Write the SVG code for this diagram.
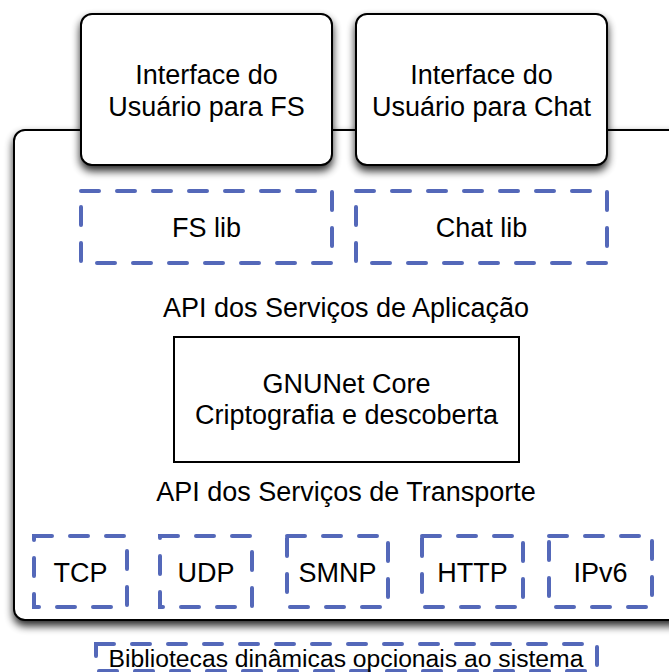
<svg xmlns="http://www.w3.org/2000/svg" width="669" height="672" viewBox="0 0 669 672">
<defs>
<filter id="sh" x="-20%" y="-20%" width="140%" height="140%">
<feGaussianBlur in="SourceAlpha" stdDeviation="4.5"/>
<feOffset dx="0" dy="5" result="b"/>
<feComponentTransfer><feFuncA type="linear" slope="0.85"/></feComponentTransfer>
<feMerge><feMergeNode/><feMergeNode in="SourceGraphic"/></feMerge>
</filter>
<style>
.solid{fill:#fff;stroke:#000;stroke-width:2}
.dash{fill:none;stroke:#5468b9;stroke-width:4;stroke-dasharray:18 18;stroke-linecap:round}
text{font-family:"Liberation Sans",Arial,Helvetica,sans-serif;font-size:27px;fill:#000;text-anchor:middle}
.small{font-size:24.7px}
</style>
</defs>
<rect width="669" height="672" fill="#fff"/>
<g id="main">
<rect class="solid" x="14" y="130" width="690" height="490" rx="11" filter="url(#sh)"/>
</g>
<g id="ui-fs">
<rect class="solid" x="81" y="14" width="251" height="151" rx="11" filter="url(#sh)"/>
<text x="206.5" y="84">Interface do</text>
<text x="206.5" y="116">Usuário para FS</text>
</g>
<g id="ui-chat">
<rect class="solid" x="356" y="14" width="251" height="151" rx="11" filter="url(#sh)"/>
<text x="481.5" y="84">Interface do</text>
<text x="481.5" y="116">Usuário para Chat</text>
</g>
<g id="fs-lib">
<rect class="dash" x="81" y="191" width="251" height="72"/>
<text x="206.5" y="237">FS lib</text>
</g>
<g id="chat-lib">
<rect class="dash" x="356" y="191" width="251" height="72"/>
<text x="481.5" y="237">Chat lib</text>
</g>
<g id="api-app">
<text x="346" y="317">API dos Serviços de Aplicação</text>
</g>
<g id="core">
<rect x="174" y="337" width="345" height="125" fill="#fff" stroke="#000" stroke-width="2"/>
<text x="346.5" y="393">GNUNet Core</text>
<text x="346.5" y="424">Criptografia e descoberta</text>
</g>
<g id="api-transport">
<text x="346" y="501">API dos Serviços de Transporte</text>
</g>
<g id="tcp">
<rect class="dash" x="34" y="536" width="93" height="71"/>
<text x="80.5" y="582">TCP</text>
</g>
<g id="udp">
<rect class="dash" x="160" y="536" width="92" height="71"/>
<text x="206" y="582">UDP</text>
</g>
<g id="smnp">
<rect class="dash" x="287" y="536" width="101" height="71"/>
<text x="337.5" y="582">SMNP</text>
</g>
<g id="http">
<rect class="dash" x="422" y="536" width="101" height="71"/>
<text x="472.5" y="582">HTTP</text>
</g>
<g id="ipv6">
<rect class="dash" x="549" y="536" width="103" height="71"/>
<text x="600.5" y="582">IPv6</text>
</g>
<g id="dynlibs">
<rect class="dash" x="96" y="644" width="501" height="27"/>
<text class="small" x="346" y="667">Bibliotecas dinâmicas opcionais ao sistema</text>
</g>
<g id="connectors"></g>
</svg>
